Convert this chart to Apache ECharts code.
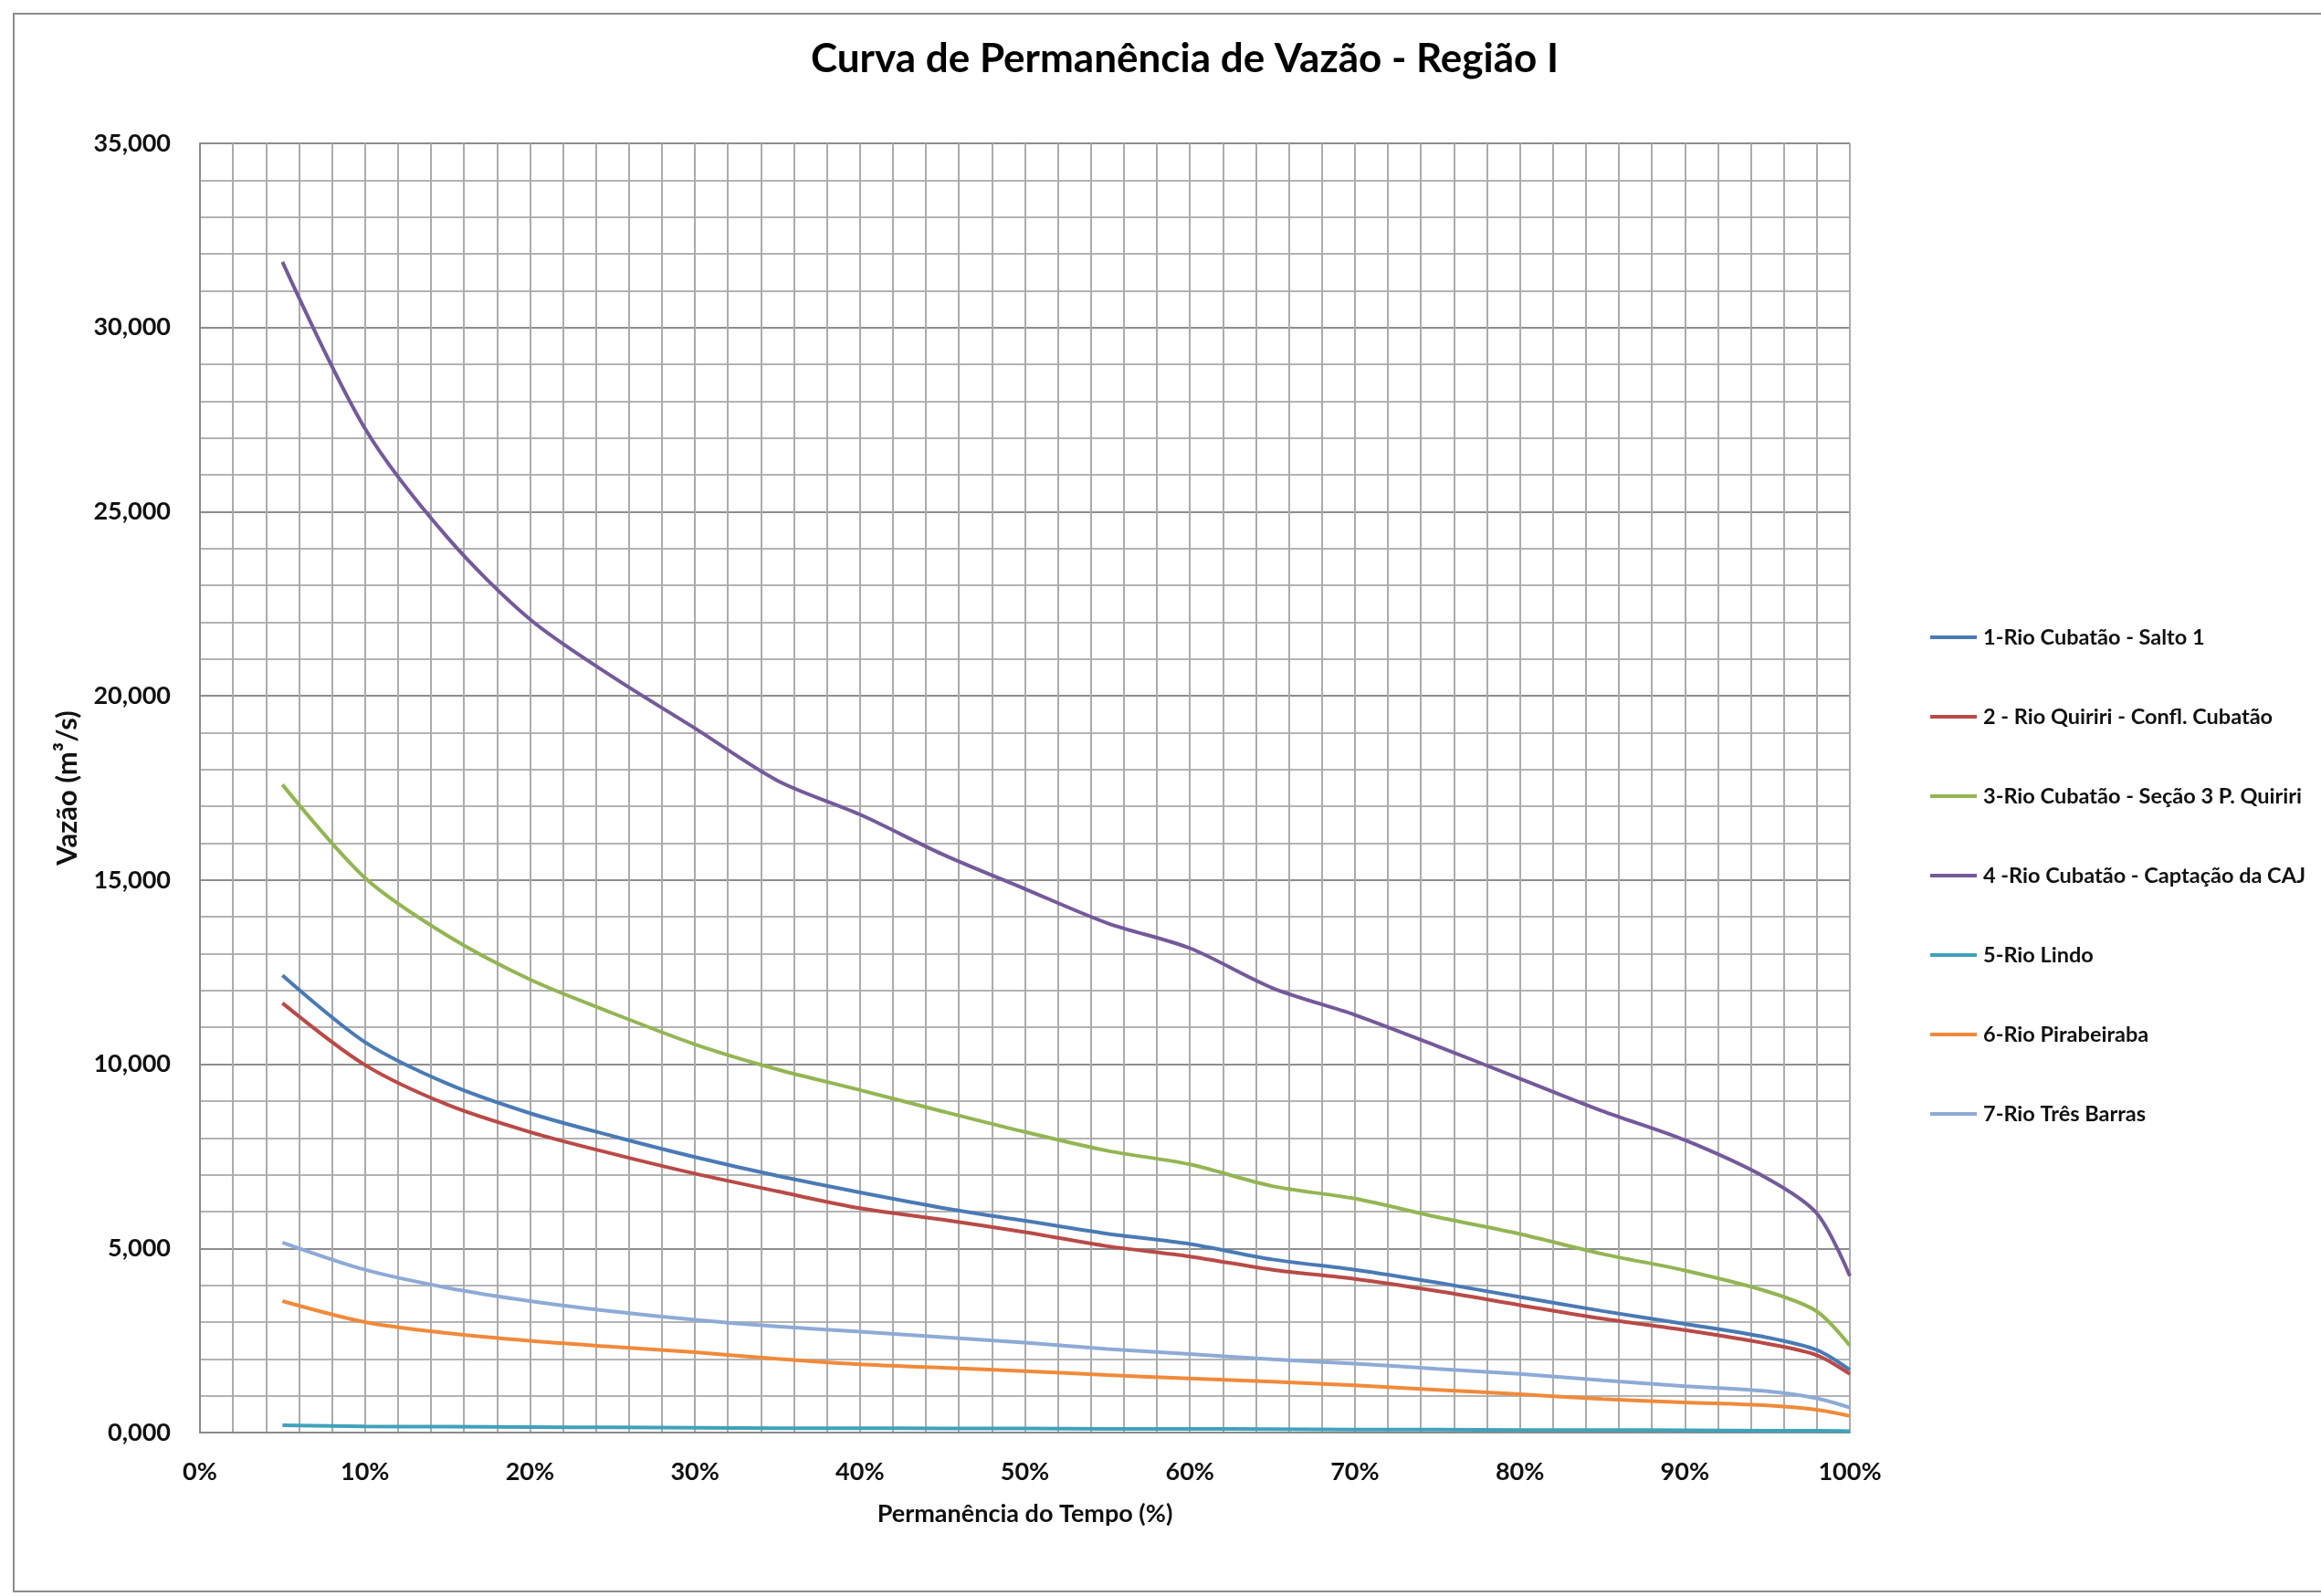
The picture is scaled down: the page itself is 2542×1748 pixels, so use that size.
<!DOCTYPE html>
<html>
<head>
<meta charset="utf-8">
<title>Curva de Permanência de Vazão - Região I</title>
<script src="https://cdn.jsdelivr.net/npm/echarts@6/dist/echarts.min.js"></script>
<style>
  html, body { margin: 0; padding: 0; background: #ffffff; }
  #chart { width: 2542px; height: 1748px; }
</style>
</head>
<body>
<div id="chart"></div>
<script>
// Permanência do tempo (%) em que cada vazão é igualada ou superada
const permanencia = [5, 10, 15, 20, 25, 30, 35, 40, 45, 50, 55, 60, 65, 70, 75, 80, 85, 90, 95, 98, 100];

// Vazões (m³/s) por ponto de controle
const rioCubataoSalto1 = [12.41, 10.60, 9.47, 8.67, 8.05, 7.48, 6.97, 6.52, 6.10, 5.75, 5.40, 5.12, 4.70, 4.42, 4.07, 3.68, 3.30, 2.95, 2.58, 2.24, 1.70];
const rioQuiririConfl = [11.66, 9.98, 8.90, 8.16, 7.57, 7.03, 6.55, 6.09, 5.78, 5.44, 5.06, 4.78, 4.42, 4.17, 3.84, 3.46, 3.09, 2.78, 2.41, 2.10, 1.59];
const rioCubataoSecao3 = [17.59, 15.06, 13.49, 12.30, 11.39, 10.54, 9.86, 9.30, 8.72, 8.16, 7.65, 7.28, 6.69, 6.35, 5.85, 5.39, 4.85, 4.40, 3.83, 3.29, 2.36];
const rioCubataoCaptacao = [31.78, 27.26, 24.30, 22.08, 20.52, 19.12, 17.70, 16.78, 15.70, 14.76, 13.83, 13.15, 12.07, 11.34, 10.49, 9.61, 8.73, 7.94, 6.90, 5.95, 4.25];
const rioLindo = [0.20, 0.17, 0.16, 0.15, 0.14, 0.13, 0.12, 0.12, 0.11, 0.11, 0.10, 0.10, 0.09, 0.08, 0.08, 0.07, 0.07, 0.06, 0.05, 0.05, 0.04];
const rioPirabeiraba = [3.57, 3.00, 2.70, 2.49, 2.33, 2.18, 2.00, 1.85, 1.76, 1.67, 1.56, 1.47, 1.38, 1.28, 1.16, 1.04, 0.91, 0.82, 0.74, 0.62, 0.45];
const rioTresBarras = [5.16, 4.42, 3.93, 3.57, 3.29, 3.06, 2.88, 2.74, 2.59, 2.44, 2.27, 2.13, 1.99, 1.87, 1.73, 1.59, 1.42, 1.26, 1.12, 0.93, 0.68];

const seriesNames = [
  '1-Rio Cubatão - Salto 1',
  '2 - Rio Quiriri - Confl. Cubatão',
  '3-Rio Cubatão - Seção 3 P. Quiriri',
  '4 -Rio Cubatão - Captação da CAJ',
  '5-Rio Lindo',
  '6-Rio Pirabeiraba',
  '7-Rio Três Barras'
];
const seriesValues = [rioCubataoSalto1, rioQuiririConfl, rioCubataoSecao3, rioCubataoCaptacao, rioLindo, rioPirabeiraba, rioTresBarras];
const seriesColors = ['#4a7ab5', '#b94a47', '#93b553', '#74599b', '#40a2bb', '#f08a3a', '#8eaad6'];

const FONT = 'Lato, "Open Sans", sans-serif';

const chart = echarts.init(document.getElementById('chart'), null, { renderer: 'canvas' });

chart.setOption({
  backgroundColor: '#ffffff',
  animation: false,
  textStyle: { fontFamily: FONT, color: '#000000' },
  title: {
    text: 'Curva de Permanência de Vazão - Região I',
    left: 883,
    top: 38,
    textStyle: { fontFamily: FONT, fontSize: 44, fontWeight: 'bold', color: '#000000' }
  },
  graphic: [{
    type: 'rect',
    shape: { x: 15, y: 15, width: 2560, height: 1728 },
    style: { fill: 'none', stroke: '#8c8c8c', lineWidth: 2 },
    silent: true,
    z: -10
  }],
  legend: {
    orient: 'vertical',
    left: 2109,
    top: 680,
    itemWidth: 51,
    itemHeight: 4,
    itemGap: 61,
    icon: 'rect',
    textStyle: { fontFamily: FONT, fontSize: 23.5, fontWeight: 'bold', color: '#111111', lineHeight: 26, padding: [0, 0, 0, 2] },
    data: seriesNames
  },
  grid: { left: 219, top: 157, right: 516, bottom: 179, containLabel: false },
  xAxis: {
    type: 'value',
    min: 0,
    max: 100,
    interval: 10,
    name: 'Permanência do Tempo (%)',
    nameLocation: 'middle',
    nameGap: 76,
    nameTextStyle: { fontFamily: FONT, fontSize: 27, fontWeight: 'bold', color: '#111111' },
    axisLine: { show: true, lineStyle: { color: '#8a8a8a', width: 2 } },
    axisTick: { show: false },
    axisLabel: {
      margin: 30,
      fontFamily: FONT, fontSize: 27, fontWeight: 'bold', color: '#111111',
      formatter: v => v + '%'
    },
    splitLine: { show: true, lineStyle: { color: '#ababab', width: 2 } },
    minorTick: { show: false, splitNumber: 5 },
    minorSplitLine: { show: true, lineStyle: { color: '#ababab', width: 2 } }
  },
  yAxis: {
    type: 'value',
    min: 0,
    max: 35,
    interval: 5,
    name: 'Vazão (m³/s)',
    nameLocation: 'middle',
    nameGap: 130,
    nameRotate: 90,
    nameTextStyle: { fontFamily: FONT, fontSize: 31, fontWeight: 'bold', color: '#111111' },
    axisLine: { show: true, lineStyle: { color: '#8a8a8a', width: 2 } },
    axisTick: { show: false },
    axisLabel: {
      margin: 32,
      fontFamily: FONT, fontSize: 27, fontWeight: 'bold', color: '#111111',
      formatter: v => v.toFixed(3).replace('.', ',')
    },
    splitLine: { show: true, lineStyle: { color: '#8c8c8c', width: 2 } },
    minorTick: { show: false, splitNumber: 5 },
    minorSplitLine: { show: true, lineStyle: { color: '#b3b3b3', width: 2 } }
  },
  series: seriesNames.map((name, i) => ({
    name: name,
    type: 'line',
    smooth: 0.3,
    showSymbol: false,
    symbol: 'none',
    color: seriesColors[i],
    lineStyle: { color: seriesColors[i], width: 4 },
    data: permanencia.map((p, k) => [p, seriesValues[i][k]])
  }))
});
</script>
</body>
</html>
